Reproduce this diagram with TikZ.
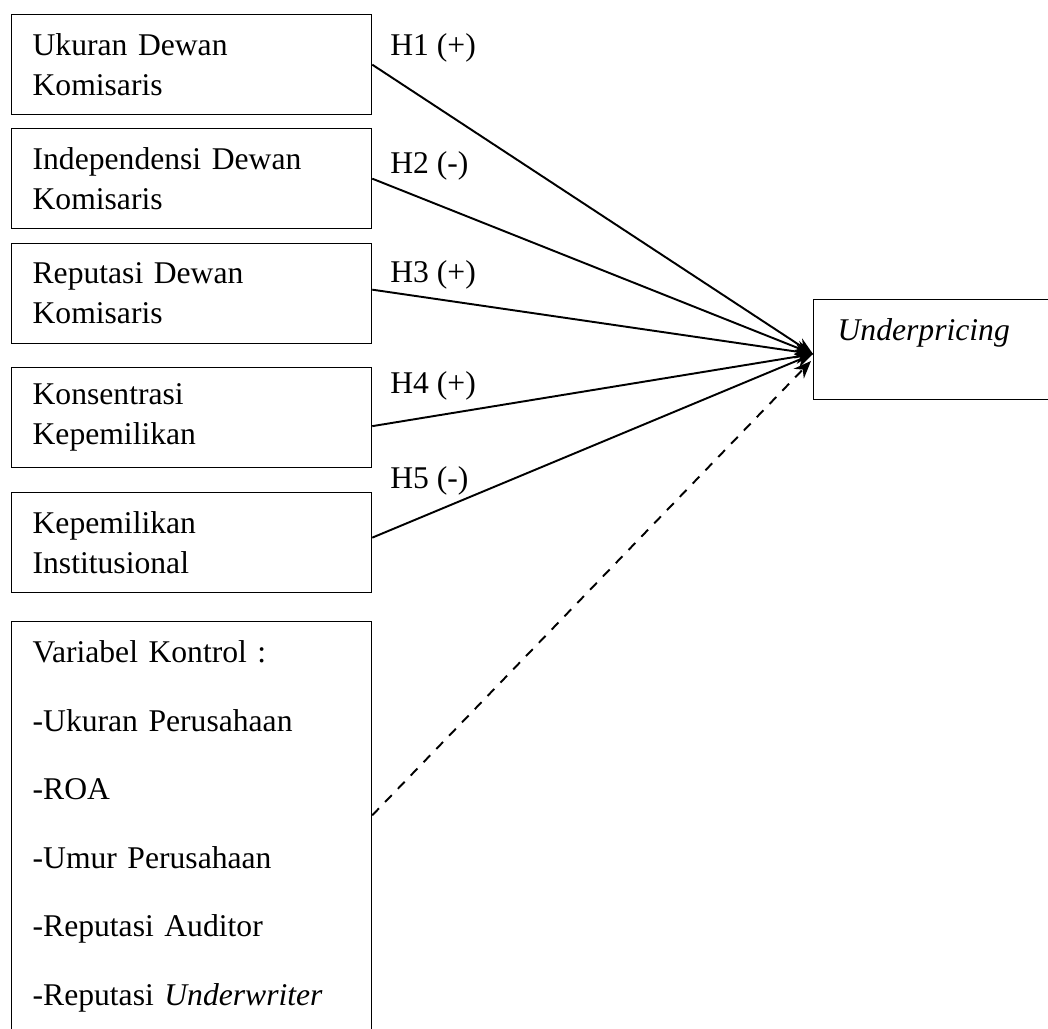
\documentclass[tikz,border=0pt]{standalone}
\usepackage{fontspec}
\setmainfont{Liberation Serif}
\usetikzlibrary{arrows.meta}

\begin{document}
\begin{tikzpicture}[
    x=0.02cm, y=-0.02cm,
    font=\fontsize{18}{22.8}\selectfont,
    varbox/.style={draw, line width=0.75pt, anchor=north west, minimum width=7.2cm,
        minimum height=2cm, text width=6.36cm, inner xsep=0.42cm, align=left},
    hlabel/.style={anchor=base west, inner sep=0pt},
    link/.style={->, line width=1.1pt},
    >={Stealth[length=10pt,width=8pt]} % gaya panah
]
    \path[use as bounding box, clip] (0,0) rectangle (1048,1028);
    \node[varbox] (b1) at (11,14) {Ukuran Dewan\\Komisaris};
    \node[varbox] (b2) at (11,128) {Independensi Dewan\\Komisaris};
    \node[varbox] (b3) at (11,243) {Reputasi Dewan\\Komisaris};
    \node[varbox] (b4) at (11,367) {Konsentrasi\\Kepemilikan};
    \node[varbox] (b5) at (11,492) {Kepemilikan\\Institusional};
    \node[varbox, minimum height=0pt, inner ysep=0.38cm, font=\fontsize{18}{39}\selectfont] (ctrl) at (11,621)
        {Variabel Kontrol :\\-Ukuran Perusahaan\\-ROA\\-Umur Perusahaan\\-Reputasi Auditor\\-Reputasi \textit{Underwriter}};
    \node[draw, line width=0.75pt, anchor=north west, minimum width=4.74cm, text width=3.78cm,
        inner xsep=0.48cm, inner ysep=0pt, text height=0.82cm, text depth=1.18cm, align=left]
        (up) at (813,299) {\textit{Underpricing}};
    \node[hlabel] (h1) at (390,55) {H1 (+)};
    \node[hlabel] (h2) at (390,173) {H2 (-)};
    \node[hlabel] (h3) at (390,282) {H3 (+)};
    \node[hlabel] (h4) at (390,393) {H4 (+)};
    \node[hlabel] (h5) at (390,488) {H5 (-)};
    \coordinate (tip) at (813,354);
    \coordinate (dtip) at (811,361);
    \draw[link] (b1.east) -- (tip);
    \draw[link] (b2.east) -- (tip);
    \draw[link] ([yshift=0.08cm]b3.east) -- (tip);
    \draw[link] ([yshift=-0.17cm]b4.east) -- (tip);
    \draw[link] ([yshift=0.1cm]b5.east) -- (tip);
    \draw[link, dash pattern=on 5.5pt off 5pt] ([yshift=0.22cm]ctrl.east) -- (dtip);
\end{tikzpicture}
\end{document}
